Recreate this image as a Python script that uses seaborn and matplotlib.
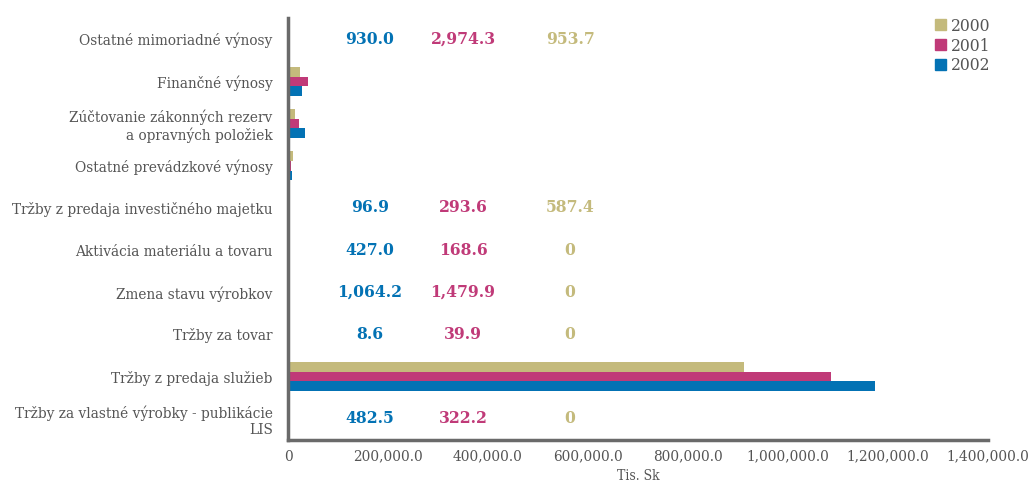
import pandas as pd
import seaborn as sns
import matplotlib.pyplot as plt
from matplotlib.ticker import FuncFormatter, FixedLocator

categories = [
    "Ostatné mimoriadné výnosy",
    "Finančné výnosy",
    "Zúčtovanie zákonných rezerv\na opravných položiek",
    "Ostatné prevádzkové výnosy",
    "Tržby z predaja investičného majetku",
    "Aktivácia materiálu a tovaru",
    "Zmena stavu výrobkov",
    "Tržby za tovar",
    "Tržby z predaja služieb",
    "Tržby za vlastné výrobky - publikácie\nLIS",
]
years = ["2000", "2001", "2002"]

v2000 = [953.7, 24000, 14000, 10000, 587.4, 0, 0, 0, 912000, 0]
v2001 = [2974.3, 40000, 22000, 6000, 293.6, 168.6, 1479.9, 39.9, 1086000, 322.2]
v2002 = [930.0, 28000, 34000, 8000, 96.9, 427.0, 1064.2, 8.6, 1174000, 482.5]

# rows where the bars are too small to see, values written as text
labelled_rows = [0, 4, 5, 6, 7, 9]

colors = {"2000": "#C4BA7C", "2001": "#C03A78", "2002": "#0372B4"}
grey = "#6a6a6a"

df = pd.DataFrame({
    "category": categories * 3,
    "year": [y for y in years for _ in categories],
    "value": v2000 + v2001 + v2002,
})

sns.set_style("white")
plt.rcParams["font.family"] = ["DejaVu Serif"]
plt.rcParams["font.stretch"] = "condensed"

fig = plt.figure(figsize=(10.29, 4.88), dpi=100)
ax = fig.add_axes([0.2799, 0.0984, 0.6803, 0.8646])

sns.barplot(data=df, x="value", y="category", hue="year", hue_order=years,
            palette=colors, orient="h", width=0.68, order=categories,
            saturation=1, linewidth=0, ax=ax, legend=False)

ax.set_xlim(0, 1400000)
ax.set_ylim(9.5, -0.5)
ax.xaxis.set_major_locator(FixedLocator(range(0, 1400001, 200000)))
ax.xaxis.set_major_formatter(FuncFormatter(lambda v, p: "0" if v == 0 else f"{v:,.1f}"))

ax.yaxis.set_minor_locator(FixedLocator([i - 0.5 for i in range(len(categories) + 1)]))
ax.tick_params(axis="y", which="major", length=0, pad=11, labelsize=11, labelcolor="#555555")
ax.tick_params(axis="y", which="minor", length=5, width=2, color=grey, direction="out")
ax.tick_params(axis="x", which="major", length=4, width=2, color=grey, direction="out",
               labelsize=11, labelcolor="#555555", pad=3)
for lbl in ax.get_yticklabels():
    lbl.set_multialignment("right")

for s in ["top", "right"]:
    ax.spines[s].set_visible(False)
for s in ["left", "bottom"]:
    ax.spines[s].set_color(grey)
    ax.spines[s].set_linewidth(2.5)

ax.set_ylabel("")
ax.set_xlabel("Tis. Sk", fontsize=10, color="#555555", labelpad=4)

label_x = {"2002": 164000, "2001": 350000, "2000": 564000}
vals = {"2000": v2000, "2001": v2001, "2002": v2002}
for r in labelled_rows:
    for y in ["2002", "2001", "2000"]:
        v = vals[y][r]
        txt = "0" if v == 0 else f"{v:,.1f}"
        ax.text(label_x[y], r, txt, color=colors[y], fontsize=12.5, fontweight="bold",
                ha="center", va="center")

handles = [plt.Rectangle((0, 0), 1, 1, color=colors[y]) for y in years]
fig.legend(handles, years, loc="upper right", bbox_to_anchor=(0.978, 0.995), frameon=False,
           handlelength=0.6, handleheight=0.6, handletextpad=0.3, labelspacing=0.15,
           prop={"size": 12.5}, labelcolor="#555555")

fig.savefig("out.png", dpi=100)
